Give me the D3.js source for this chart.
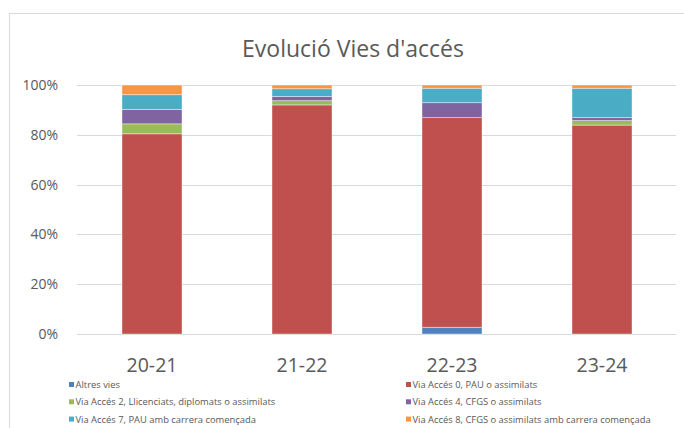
<!DOCTYPE html>
<html>
<head>
<meta charset="utf-8">
<script src="https://cdn.jsdelivr.net/npm/d3@7"></script>
<style>
  body { margin: 0; background: #fff; }
  text { font-family: "Open Sans", sans-serif; fill: #595959; }
</style>
</head>
<body>
<script>
// Chart size
var w = 684;
var h = 428;

// Data: share (%) of each access route per academic year
var years = ["20-21", "21-22", "22-23", "23-24"];
var seriesNames = [
  "Altres vies",
  "Via Accés 0, PAU o assimilats",
  "Via Accés 2, Llicenciats, diplomats o assimilats",
  "Via Accés 4, CFGS o assimilats",
  "Via Accés 7, PAU amb carrera començada",
  "Via Accés 8, CFGS o assimilats amb carrera començada"
];
var altres = [0, 0, 2.7, 0];
var via0 = [80.4, 92.0, 84.2, 83.9];
var via2 = [4.0, 1.7, 0, 1.8];
var via4 = [5.8, 1.7, 6.0, 1.2];
var via7 = [5.9, 3.1, 5.8, 11.8];
var via8 = [3.9, 1.5, 1.3, 1.3];
var colors = ["#4F81BD", "#C0504D", "#9BBB59", "#8064A2", "#4BACC6", "#F79646"];
var yTicks = [0, 20, 40, 60, 80, 100];

var allSeries = [altres, via0, via2, via4, via7, via8];
var keys = seriesNames;

// build table for d3.stack
var table = years.map(function(y, i) {
  var row = { year: y };
  keys.forEach(function(k, j) { row[k] = allSeries[j][i]; });
  return row;
});
var stacked = d3.stack().keys(keys)(table);

var svg = d3.select("body").append("svg")
  .attr("width", w)
  .attr("height", h);

// chart border
svg.append("rect")
  .attr("x", 9.5).attr("y", 13.5)
  .attr("width", 720).attr("height", 440)
  .attr("fill", "none")
  .attr("stroke", "#d9d9d9");

var xScale = d3.scaleBand()
  .domain(years)
  .range([77, 677])
  .paddingInner(0.6)
  .paddingOuter(0.3);

var yScale = d3.scaleLinear()
  .domain([0, 100])
  .range([334, 85]);

// gridlines
svg.append("g")
  .selectAll("line")
  .data(yTicks)
  .enter()
  .append("line")
  .attr("x1", 77).attr("x2", 676)
  .attr("y1", function(d) { return Math.round(yScale(d)) + 0.5; })
  .attr("y2", function(d) { return Math.round(yScale(d)) + 0.5; })
  .attr("stroke", "#d9d9d9")
  .attr("stroke-width", 1);

// y labels
svg.append("g")
  .selectAll("text")
  .data(yTicks)
  .enter()
  .append("text")
  .attr("x", 58)
  .attr("y", function(d) { return yScale(d) + 5; })
  .attr("text-anchor", "end")
  .attr("font-size", "14px")
  .text(function(d) { return d + "%"; });

// bars
svg.append("g")
  .selectAll("g")
  .data(stacked)
  .enter()
  .append("g")
  .attr("fill", function(d, i) { return colors[i]; })
  .selectAll("rect")
  .data(function(d) { return d; })
  .enter()
  .append("rect")
  .attr("x", function(d) { return xScale(d.data.year); })
  .attr("width", xScale.bandwidth())
  .attr("y", function(d) { return yScale(d[1]); })
  .attr("height", function(d) { return yScale(d[0]) - yScale(d[1]); })
  .attr("stroke", "#fff")
  .attr("stroke-opacity", 0.5)
  .attr("stroke-width", function(d) { return d[1] - d[0] > 0 ? 0.8 : 0; });

// x labels
svg.append("g")
  .selectAll("text")
  .data(years)
  .enter()
  .append("text")
  .attr("x", function(d) { return xScale(d) + xScale.bandwidth() / 2; })
  .attr("y", 372)
  .attr("text-anchor", "middle")
  .attr("font-size", "19.5px")
  .text(function(d) { return d; });

// title
svg.append("text")
  .attr("x", 353)
  .attr("y", 57)
  .attr("text-anchor", "middle")
  .attr("font-size", "23px")
  .text("Evolució Vies d'accés");

// legend, two columns
var legend = svg.append("g")
  .selectAll("g")
  .data(seriesNames)
  .enter()
  .append("g")
  .attr("transform", function(d, i) {
    var col = i % 2;
    var row = Math.floor(i / 2);
    return "translate(" + (col === 0 ? 69 : 406) + "," + (385 + row * 17.3) + ")";
  });

legend.append("rect")
  .attr("x", 0).attr("y", -3)
  .attr("width", 5).attr("height", 5)
  .attr("fill", function(d, i) { return colors[i]; });

legend.append("text")
  .attr("x", 6.5)
  .attr("y", 3)
  .attr("font-size", "9.4px")
  .text(function(d) { return d; });
</script>
</body>
</html>
